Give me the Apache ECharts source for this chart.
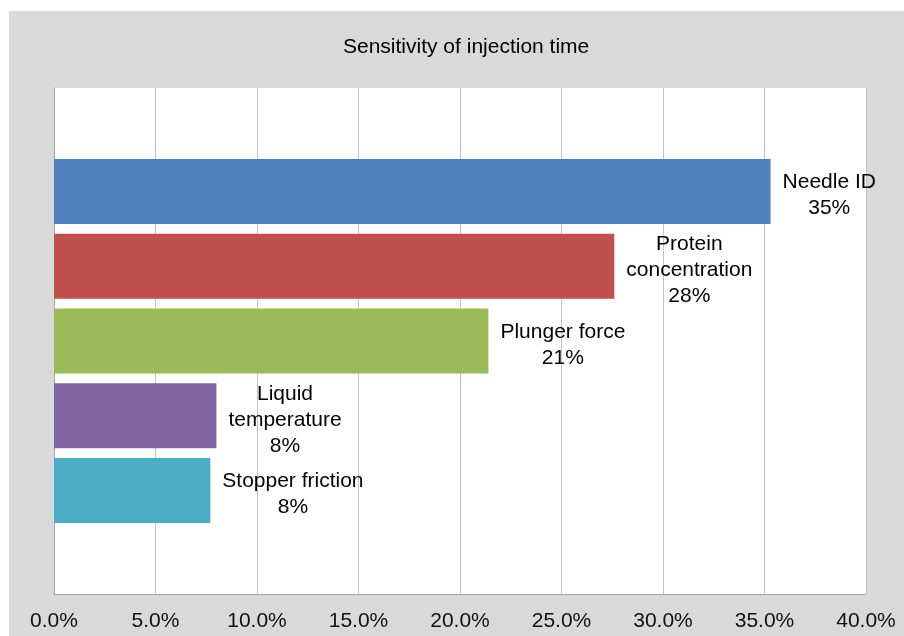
<!DOCTYPE html>
<html>
<head>
<meta charset="utf-8">
<script src="https://cdn.jsdelivr.net/npm/echarts@6/dist/echarts.min.js"></script>
<style>
    html, body { margin: 0; padding: 0; background: #fff; }
    #chart { position: absolute; left: 9px; top: 11px; width: 895px; height: 625px; }
</style>
</head>
<body>
<div id="chart"></div>
<script>
// factors and their sensitivity share (%)
var factorNames = ['Needle ID', 'Protein concentration', 'Plunger force', 'Liquid temperature', 'Stopper friction'];
var labelLines = ['Needle ID', 'Protein\nconcentration', 'Plunger force', 'Liquid\ntemperature', 'Stopper friction'];
var sensitivity = [35.3, 27.6, 21.4, 8.0, 7.7];
var barColors = ['#4f81bd', '#c0504d', '#9bbb59', '#8064a2', '#4bacc6'];
var xTicks = [0, 5, 10, 15, 20, 25, 30, 35, 40];

var fontFam = '"Liberation Sans", Arial, sans-serif';
var labelFont = '21px ' + fontFam;

// width of the widest line, used to centre the lines next to the bar end
function textWidth(str) {
    var ctx = document.createElement('canvas').getContext('2d');
    ctx.font = labelFont;
    var w = 0;
    str.split('\n').forEach(function (line) {
        w = Math.max(w, ctx.measureText(line).width);
    });
    return w;
}

var series = factorNames.map(function (name, i) {
    var txt = labelLines[i];
    var w = textWidth(txt);
    return {
        name: name,
        type: 'bar',
        data: [sensitivity[i]],
        barWidth: 65,
        barGap: '15%',
        itemStyle: { color: barColors[i] },
        label: {
            show: true,
            position: 'right',
            distance: 12 + w / 2,
            offset: [0, 4],
            align: 'center',
            color: '#000',
            fontFamily: fontFam,
            fontSize: 21,
            lineHeight: 26,
            formatter: function (p) {
                return txt + '\n' + Math.round(p.value) + '%';
            }
        }
    };
});

var chart = echarts.init(document.getElementById('chart'));
chart.setOption({
    backgroundColor: '#d9d9d9',
    animation: false,
    title: {
        text: 'Sensitivity of injection time',
        left: 329,
        top: 21,
        textStyle: {
            color: '#000',
            fontWeight: 'normal',
            fontSize: 21,
            fontFamily: fontFam
        }
    },
    grid: {
        left: 45,
        right: 38,
        top: 77,
        bottom: 42,
        show: true,
        backgroundColor: '#fff',
        borderWidth: 0
    },
    xAxis: {
        type: 'value',
        min: xTicks[0],
        max: xTicks[xTicks.length - 1],
        interval: xTicks[1] - xTicks[0],
        axisLine: { show: true, lineStyle: { color: '#a6a6a6' } },
        axisTick: { show: false },
        splitLine: { show: true, lineStyle: { color: '#c4c4c4' } },
        axisLabel: {
            margin: 17,
            color: '#111',
            fontSize: 21,
            fontFamily: fontFam,
            formatter: function (v) { return v.toFixed(1) + '%'; }
        }
    },
    yAxis: {
        type: 'category',
        data: [''],
        inverse: true,
        axisLine: { show: true, lineStyle: { color: '#a6a6a6' } },
        axisTick: { show: false },
        axisLabel: { show: false }
    },
    series: series
});
</script>
</body>
</html>
